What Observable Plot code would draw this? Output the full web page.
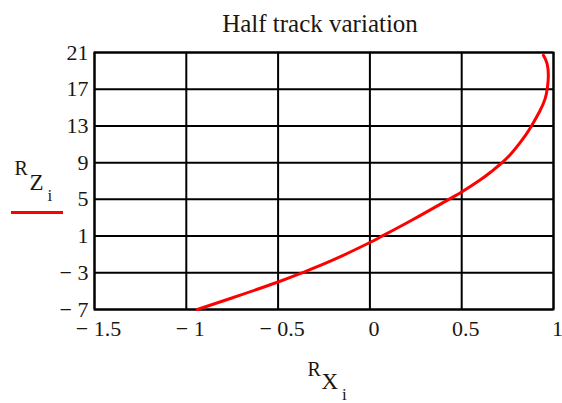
<!DOCTYPE html>
<html>
<head>
<meta charset="utf-8">
<script src="https://cdn.jsdelivr.net/npm/d3@7"></script>
<script src="https://cdn.jsdelivr.net/npm/@observablehq/plot@0.6"></script>
<style>
  html, body { margin: 0; padding: 0; background: #fff; }
</style>
</head>
<body>
<div id="chart"></div>
<script>
// Data
const title = "Half track variation";
const rx = [-0.94, -0.76, -0.5, -0.37, -0.2, 0, 0.05, 0.23, 0.43, 0.5, 0.6, 0.66, 0.72, 0.77, 0.815, 0.85, 0.88, 0.925, 0.955, 0.967, 0.972, 0.965, 0.945];
const rz = [-7, -5.8, -4.0, -3.0, -1.6, 0.3, 0.82, 2.75, 5.0, 5.8, 7.1, 8.0, 9.0, 10.0, 11.1, 12.05, 13, 14.6, 16, 17.2, 18.5, 19.8, 20.7];
const xTicks = [-1.5, -1, -0.5, 0, 0.5, 1];
const yTicks = [-7, -3, 1, 5, 9, 13, 17, 21];

const points = rx.map((x, i) => ({x, z: rz[i]}));
const fmt = d => d < 0 ? "\u2212 " + Math.abs(d) : String(d);
const ink = "#1c1610";
const serif = "Liberation Serif";

// legend swatch (red line under the y label)
const swatch = () => {
  const ns = "http://www.w3.org/2000/svg";
  const l = document.createElementNS(ns, "line");
  l.setAttribute("x1", 11); l.setAttribute("x2", 63);
  l.setAttribute("y1", 212.5); l.setAttribute("y2", 212.5);
  l.setAttribute("stroke", "#ff0000"); l.setAttribute("stroke-width", 3);
  return l;
};

const txt = (s, o) => Plot.text([s], {textAnchor: "start", lineAnchor: "bottom", fill: ink, fontFamily: serif, ...o});

const chart = Plot.plot({
  width: 562,
  height: 403,
  marginLeft: 94,
  marginRight: 9,
  marginTop: 52,
  marginBottom: 94,
  style: {fontFamily: serif, background: "#fff", color: ink},
  x: {domain: [-1.5, 1]},
  y: {domain: [-7, 21]},
  marks: [
    Plot.gridX(xTicks, {stroke: "#000", strokeOpacity: 1, strokeWidth: 2}),
    Plot.gridY(yTicks, {stroke: "#000", strokeOpacity: 1, strokeWidth: 2}),
    Plot.frame({stroke: "#000", strokeWidth: 2}),
    Plot.axisX({ticks: xTicks, tickSize: 0, tickPadding: 11, tickFormat: fmt, fontSize: 22, fontFamily: serif, dx: 4, label: null, fill: ink}),
    Plot.axisY({ticks: yTicks, tickSize: 0, tickPadding: 6, tickFormat: fmt, fontSize: 22, fontFamily: serif, label: null, fill: ink}),
    Plot.line(points, {x: "x", y: "z", stroke: "#ff0000", strokeWidth: 3, curve: "natural"}),
    // title
    txt(title, {frameAnchor: "top", textAnchor: "middle", dy: -21, dx: -4, fontSize: 25}),
    // y label R_Z_i
    txt("R", {frameAnchor: "left", dx: -80, dy: -6.5, fontSize: 20}),
    txt("Z", {frameAnchor: "left", dx: -65, dy: 8.5, fontSize: 23}),
    txt("i", {frameAnchor: "left", dx: -47, dy: 20, fontSize: 17}),
    swatch,
    // x label R_X_i
    txt("R", {frameAnchor: "bottom-left", dx: 213, dy: 66, fontSize: 20}),
    txt("X", {frameAnchor: "bottom-left", dx: 227, dy: 79.5, fontSize: 23}),
    txt("i", {frameAnchor: "bottom-left", dx: 247.5, dy: 90.5, fontSize: 17})
  ]
});
document.getElementById("chart").appendChild(chart);
</script>
</body>
</html>
